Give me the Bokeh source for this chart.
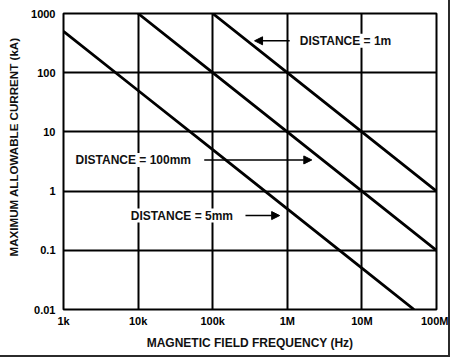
from bokeh.plotting import figure
from bokeh.models import FixedTicker, Label, Arrow, NormalHead
from bokeh.embed import file_html
from bokeh.resources import INLINE

# Data (frequency in Hz, max allowable current in kA)
freq_5mm = [1e3, 1e4, 1e5, 1e6, 1e7, 5e7]
cur_5mm = [500, 50, 5, 0.5, 0.05, 0.01]
freq_100mm = [1e4, 1e5, 1e6, 1e7, 1e8]
cur_100mm = [1000, 100, 10, 1, 0.1]
freq_1m = [1e5, 1e6, 1e7, 1e8]
cur_1m = [1000, 100, 10, 1]

x_ticks = [1e3, 1e4, 1e5, 1e6, 1e7, 1e8]
x_tick_labels = ["1k", "10k", "100k", "1M", "10M", "100M"]
y_ticks = [0.01, 0.1, 1, 10, 100, 1000]
y_tick_labels = ["0.01", "0.1", "1", "10", "100", "1000"]

FONT = "Liberation Sans"

p = figure(width=450, height=357, x_axis_type="log", y_axis_type="log",
           x_range=(1e3, 1e8), y_range=(0.01, 1000),
           output_backend="svg", toolbar_location=None,
           min_border_left=63, min_border_right=14,
           min_border_top=13, min_border_bottom=48)
p.styles = {"border-right": "2px solid #2b2b2b", "border-bottom": "2px solid #2b2b2b"}

p.background_fill_color = "white"
p.border_fill_color = "white"
p.outline_line_color = "black"
p.outline_line_width = 2

for ax, ticks, labels in ((p.xaxis[0], x_ticks, x_tick_labels),
                          (p.yaxis[0], y_ticks, y_tick_labels)):
    ax.ticker = FixedTicker(ticks=ticks, minor_ticks=[])
    ax.major_label_overrides = {t: l for t, l in zip(ticks, labels)}
    ax.axis_line_color = None
    ax.major_tick_line_color = None
    ax.minor_tick_line_color = None
    ax.major_tick_in = 0
    ax.major_tick_out = 0
    ax.minor_tick_in = 0
    ax.minor_tick_out = 0
    ax.major_label_text_font = FONT
    ax.major_label_text_font_style = "bold"
    ax.major_label_text_font_size = "11px"
    ax.major_label_text_color = "black"
    ax.axis_label_text_font = FONT
    ax.axis_label_text_font_style = "bold"
    ax.axis_label_text_font_size = "12px"
    ax.axis_label_text_color = "#111111"

p.xaxis.axis_label = "MAGNETIC FIELD FREQUENCY (Hz)"
# leading no-break spaces nudge the rotated title upward, as in the original
p.yaxis.axis_label = "\u00a0" * 9 + "MAXIMUM ALLOWABLE CURRENT (kA)"
p.yaxis.axis_label_text_font_size = "11.6px"
p.xaxis.major_label_standoff = 5
p.xaxis.axis_label_standoff = 6
p.yaxis.major_label_standoff = 8
p.yaxis.axis_label_standoff = 8

p.xgrid.ticker = FixedTicker(ticks=x_ticks)
p.ygrid.ticker = FixedTicker(ticks=y_ticks)
for g in (p.xgrid[0], p.ygrid[0]):
    g.grid_line_color = "black"
    g.grid_line_width = 2
    g.grid_line_alpha = 1

for fx, cy in ((freq_5mm, cur_5mm), (freq_100mm, cur_100mm), (freq_1m, cur_1m)):
    p.line(fx, cy, line_color="black", line_width=2.8)

# annotations
labels = [
    ("DISTANCE = 1m", 1.47e6, 346),
    ("DISTANCE = 100mm", 1.45e3, 3.36),
    ("DISTANCE = 5mm", 8.0e3, 0.386),
]
for txt, lx, ly in labels:
    p.add_layout(Label(x=lx, y=ly, text=txt, text_font=FONT, text_font_style="bold",
                       text_font_size="12px", text_color="#111111",
                       text_baseline="middle", text_align="left",
                       background_fill_color="white"))

arrows = [
    (1.077e6, 346, 3.64e5, 346),
    (7.7e4, 3.36, 2.13e6, 3.36),
    (2.75e5, 0.386, 7.9e5, 0.386),
]
for xs, ys, xe, ye in arrows:
    p.add_layout(Arrow(x_start=xs, y_start=ys, x_end=xe, y_end=ye,
                       line_color="black", line_width=1.5,
                       end=NormalHead(size=8, fill_color="black", line_color="black")))

open("out.html", "w").write(file_html(p, INLINE))
